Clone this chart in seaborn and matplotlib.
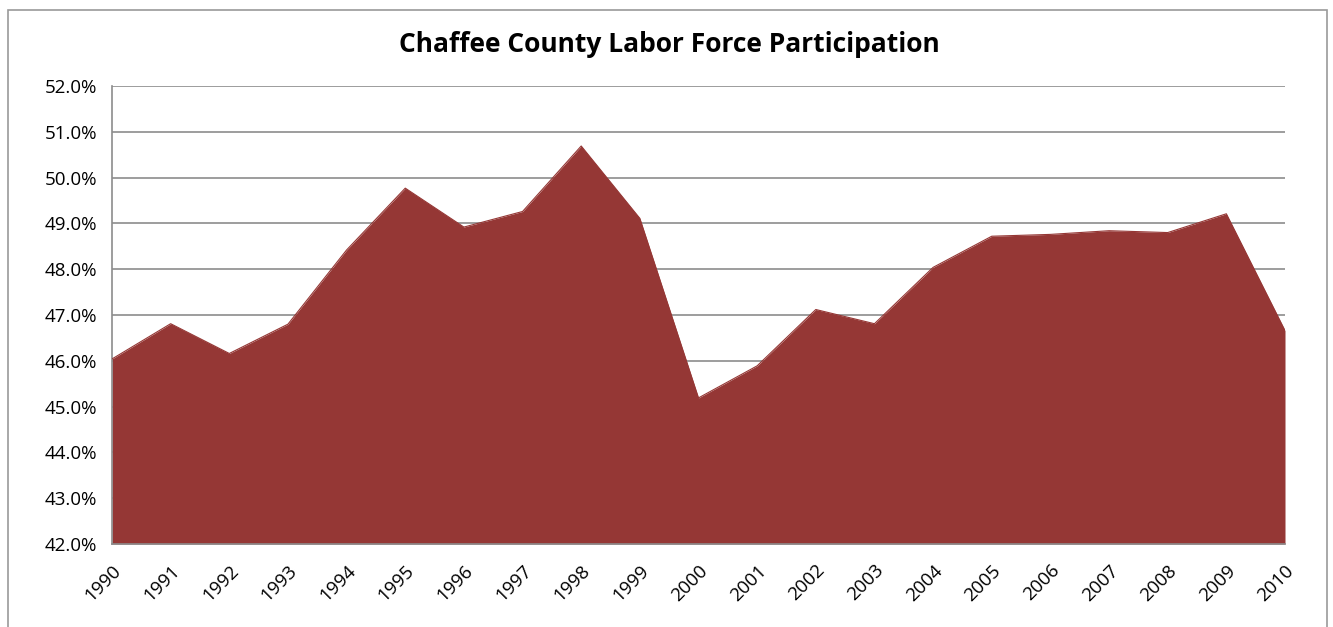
import matplotlib
matplotlib.use("Agg")
import matplotlib.pyplot as plt
import seaborn as sns
import pandas as pd
from matplotlib.patches import Rectangle
from matplotlib.ticker import FuncFormatter

# ---------- Data ----------
years = list(range(1990, 2011))
participation = [46.04, 46.81, 46.16, 46.80, 48.42, 49.77, 48.92, 49.26, 50.69, 49.11,
                 45.19, 45.89, 47.12, 46.81, 48.04, 48.72, 48.76, 48.84, 48.80, 49.21, 46.66]
y_ticks = [42, 43, 44, 45, 46, 47, 48, 49, 50, 51, 52]

df = pd.DataFrame({"Year": years, "Participation": participation})

fill_color = "#953735"
grid_color = "#8c8c8c"

sns.set_style("white")
plt.rcParams['font.family'] = ['Open Sans', 'DejaVu Sans']
plt.rcParams['text.color'] = "black"
plt.rcParams['xtick.color'] = "black"
plt.rcParams['ytick.color'] = "black"

fig = plt.figure(figsize=(13.33, 6.27), dpi=100)
ax = fig.add_axes([112 / 1333, 1 - 544 / 627, (1285 - 112) / 1333, (544 - 86) / 627])

# outer chart frame
fig.patches.append(Rectangle((8 / 1333, -0.05), (1327 - 8) / 1333, 1.05 - 10 / 627,
                             transform=fig.transFigure, fill=False,
                             edgecolor="#9a9a9a", linewidth=1.2))

# ---------- Area ----------
sns.lineplot(data=df, x="Year", y="Participation", ax=ax, color=fill_color,
             linewidth=0.8, zorder=3)
ax.fill_between(df["Year"], 42, df["Participation"], color=fill_color,
                linewidth=0, zorder=2)

ax.set_xlim(1990, 2010)
ax.set_ylim(42, 52)
ax.set_yticks(y_ticks)
ax.yaxis.set_major_formatter(FuncFormatter(lambda v, p: f"{v:.1f}%"))
ax.set_xticks(years)
ax.set_xticklabels([str(y) for y in years], rotation=45, ha="right",
                   rotation_mode="anchor", fontsize=13.5)
ax.tick_params(axis="y", labelsize=13.5, pad=7)
ax.tick_params(axis="x", pad=9)

ax.grid(axis="y", color=grid_color, linewidth=1.2, zorder=0)
ax.set_axisbelow(True)

for side in ["top", "right"]:
    ax.spines[side].set_visible(False)
for side in ["left", "bottom"]:
    ax.spines[side].set_color(grid_color)
    ax.spines[side].set_linewidth(1.2)

ax.set_xlabel("")
ax.set_ylabel("")
fig.text(669 / 1333, 1 - 44 / 627, "Chaffee County Labor Force Participation",
         ha="center", va="center", fontsize=19, fontweight="bold")

fig.savefig("out.png", dpi=100)
